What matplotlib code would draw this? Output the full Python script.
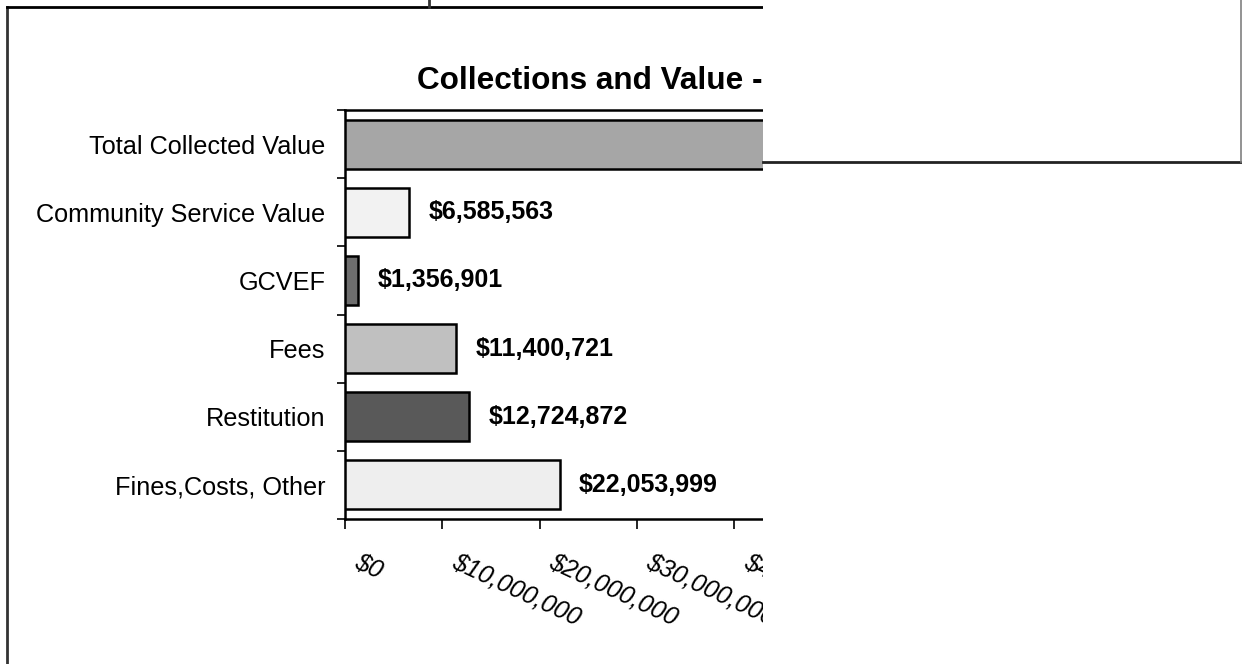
import matplotlib
matplotlib.use("Agg")
import matplotlib.pyplot as plt
import matplotlib.transforms as mtransforms
from matplotlib.patches import Rectangle
from matplotlib.lines import Line2D
from matplotlib.ticker import FuncFormatter

plt.rcParams['font.family'] = ['Liberation Sans', 'DejaVu Sans']

# ---- data ----
categories = ["Fines,Costs, Other", "Restitution", "Fees", "GCVEF",
              "Community Service Value", "Total Collected Value"]
values = [22053999, 12724872, 11400721, 1356901, 6585563, 54122056]
colors = ["#EEEEEE", "#595959", "#C0C0C0", "#6E6E6E", "#F2F2F2", "#A6A6A6"]
x_ticks = [0, 10000000, 20000000, 30000000, 40000000, 50000000, 60000000]
title = "Collections and Value -"

W, H = 1242, 664
fig = plt.figure(figsize=(W / 100, H / 100), dpi=100)
fig.patch.set_facecolor("white")

def fx(px):
    return px / W

def fy(py):
    return 1 - py / H

# axes: left 345, top 110, bottom 519, 10M = 97.3 px
ax_left, ax_top, ax_bottom = 345, 110, 519
px_per_10m = 97.3
ax_width = px_per_10m * 6
ax = fig.add_axes([fx(ax_left), fy(ax_bottom), ax_width / W, (ax_bottom - ax_top) / H])

ypos = list(range(len(categories)))
ax.barh(ypos, values, height=0.72, color=colors, edgecolor="black", linewidth=1.8, zorder=3)
ax.set_xlim(0, 60000000)
ax.set_ylim(-0.5, len(categories) - 0.5)

for y, v in zip(ypos, values):
    ax.annotate(f"${v:,.0f}", xy=(v, y), xytext=(14, 0), textcoords="offset points",
                ha="left", va="center", fontsize=18, fontweight="bold", color="black",
                zorder=4)

# y ticks at category boundaries, labels at centers
ax.set_yticks([i - 0.5 for i in range(len(categories) + 1)])
ax.set_yticklabels([])
ax.set_yticks(ypos, minor=True)
ax.set_yticklabels(categories, minor=True, fontsize=18.2)
ax.tick_params(axis="y", which="major", length=6, width=1.2, direction="out", color="black")
ax.tick_params(axis="y", which="minor", length=0, pad=14)

ax.set_xticks(x_ticks)
ax.xaxis.set_major_formatter(FuncFormatter(lambda v, p: f"${v:,.0f}"))
ax.tick_params(axis="x", which="major", length=7, width=1.2, direction="out", pad=15,
               color="black")
offset = mtransforms.ScaledTranslation(16 / 100, 0, fig.dpi_scale_trans)
for lab in ax.get_xticklabels():
    lab.set_rotation(-25)
    lab.set_rotation_mode("anchor")
    lab.set_ha("left")
    lab.set_va("top")
    lab.set_fontstyle("italic")
    lab.set_fontsize(18)
    lab.set_transform(lab.get_transform() + offset)

for s in ax.spines.values():
    s.set_linewidth(1.8)
    s.set_color("black")

# title
fig.text(fx(417), fy(81), title, ha="left", va="center", fontsize=22.7, fontweight="bold")

# outer chart frame (left and top borders)
fig.add_artist(Line2D([fx(7), fx(7)], [fy(7), fy(664)], color="#333333", linewidth=2,
                      transform=fig.transFigure, zorder=5))
fig.add_artist(Line2D([fx(7), fx(1000)], [fy(7), fy(7)], color="black", linewidth=2,
                      transform=fig.transFigure, zorder=5))
# small vertical tick at the very top
fig.add_artist(Line2D([fx(429), fx(429)], [fy(0), fy(7)], color="#333333", linewidth=2,
                      transform=fig.transFigure, zorder=5))

# white covering region on the right side
fig.add_artist(Rectangle((fx(763), 0), 1 - fx(763), 1, transform=fig.transFigure,
                         facecolor="white", edgecolor="none", zorder=10))
# borders of the overlying box
fig.add_artist(Line2D([fx(763), fx(1241)], [fy(162), fy(162)], color="#222222", linewidth=2,
                      transform=fig.transFigure, zorder=11))
fig.add_artist(Line2D([fx(1241), fx(1241)], [fy(0), fy(162)], color="#808080", linewidth=1.2,
                      transform=fig.transFigure, zorder=11))

fig.savefig("out.png", dpi=100)
